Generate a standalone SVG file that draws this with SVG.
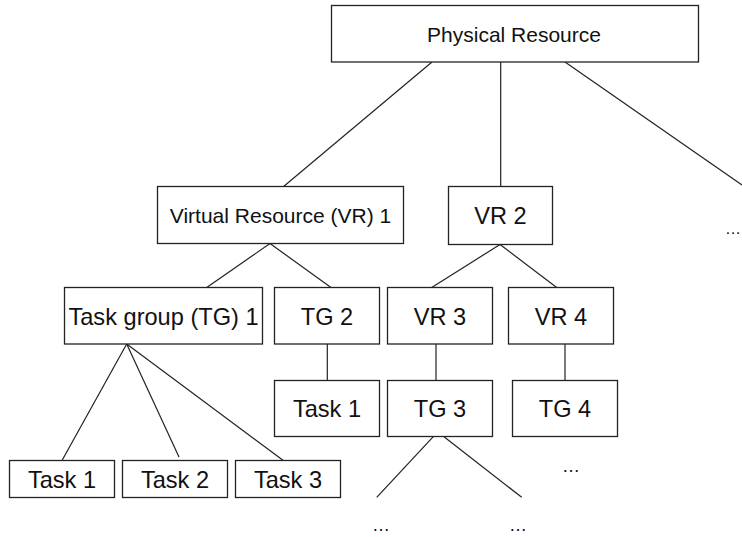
<svg xmlns="http://www.w3.org/2000/svg" width="742" height="537" viewBox="0 0 742 537">
  <style>
    .box { fill: #ffffff; stroke: #222222; stroke-width: 1.3; }
    .lbl { font-family: "Liberation Sans", Arial, sans-serif; font-size: 23.6px; fill: #111111; text-anchor: middle; }
    .big { font-size: 21px; }
    .edge { stroke: #222222; stroke-width: 1.2; fill: none; }
    .more { font-family: "Liberation Sans", Arial, sans-serif; font-size: 18px; fill: #111111; text-anchor: middle; }
  </style>
  <rect width="742" height="537" fill="#ffffff"/>

  <!-- connectors -->
  <g id="edges">
    <line class="edge" x1="432" y1="62" x2="283" y2="187"/>
    <line class="edge" x1="500.7" y1="62" x2="500.7" y2="186.5"/>
    <line class="edge" x1="565" y1="62" x2="742" y2="185"/>
    <line class="edge" x1="270" y1="243.5" x2="206.7" y2="287.5"/>
    <line class="edge" x1="270" y1="243.5" x2="331" y2="287.5"/>
    <line class="edge" x1="500" y1="244.5" x2="431.7" y2="287.5"/>
    <line class="edge" x1="500" y1="244.5" x2="556.7" y2="287.5"/>
    <line class="edge" x1="327.3" y1="344" x2="327.3" y2="380.5"/>
    <line class="edge" x1="436" y1="344" x2="436" y2="380.5"/>
    <line class="edge" x1="565" y1="344" x2="565" y2="380.5"/>
    <line class="edge" x1="126.7" y1="344" x2="62" y2="460.5"/>
    <line class="edge" x1="126.7" y1="344" x2="179" y2="457"/>
    <line class="edge" x1="126.7" y1="344" x2="283.3" y2="460.5"/>
    <line class="edge" x1="433.3" y1="436.7" x2="376.7" y2="497.3"/>
    <line class="edge" x1="444" y1="436.7" x2="521.7" y2="497.3"/>
  </g>

  <g id="physical-resource">
    <rect class="box" x="331.5" y="5.5" width="367" height="56.5"/>
    <text class="lbl big" x="514" y="42">Physical Resource</text>
  </g>
  <g id="vr1">
    <rect class="box" x="157.5" y="186.5" width="246" height="57"/>
    <text class="lbl big" x="280.5" y="223">Virtual Resource (VR) 1</text>
  </g>
  <g id="vr2">
    <rect class="box" x="448.5" y="186.5" width="104" height="58"/>
    <text class="lbl" x="500.5" y="224">VR 2</text>
  </g>
  <g id="tg1">
    <rect class="box" x="64.5" y="287.5" width="198" height="56.5"/>
    <text class="lbl" x="163.5" y="324.5">Task group (TG) 1</text>
  </g>
  <g id="tg2">
    <rect class="box" x="274.5" y="287.5" width="105" height="56.5"/>
    <text class="lbl" x="327" y="324.5">TG 2</text>
  </g>
  <g id="vr3">
    <rect class="box" x="387.5" y="287.5" width="105" height="56.5"/>
    <text class="lbl" x="440" y="324.5">VR 3</text>
  </g>
  <g id="vr4">
    <rect class="box" x="508.5" y="287.5" width="105" height="56.5"/>
    <text class="lbl" x="561" y="324.5">VR 4</text>
  </g>
  <g id="tg2-task1">
    <rect class="box" x="274.5" y="380.5" width="105" height="56"/>
    <text class="lbl" x="327" y="417">Task 1</text>
  </g>
  <g id="tg3">
    <rect class="box" x="387.5" y="380.5" width="105" height="56"/>
    <text class="lbl" x="440" y="417">TG 3</text>
  </g>
  <g id="tg4">
    <rect class="box" x="512.5" y="380.5" width="105" height="56"/>
    <text class="lbl" x="565" y="417">TG 4</text>
  </g>
  <g id="tg1-task1">
    <rect class="box" x="9.5" y="460.5" width="105" height="37"/>
    <text class="lbl" x="62" y="488">Task 1</text>
  </g>
  <g id="tg1-task2">
    <rect class="box" x="122.5" y="460.5" width="105" height="37"/>
    <text class="lbl" x="175" y="488">Task 2</text>
  </g>
  <g id="tg1-task3">
    <rect class="box" x="235.5" y="460.5" width="105" height="37"/>
    <text class="lbl" x="288" y="488">Task 3</text>
  </g>

  <!-- continuation marks -->
  <g id="ellipses">
    <text class="more" x="725" y="234" style="text-anchor:start;font-size:16px">…</text>
    <text class="more" x="571" y="472">…</text>
    <text class="more" x="381" y="531">…</text>
    <text class="more" x="518" y="531">…</text>
  </g>
</svg>
